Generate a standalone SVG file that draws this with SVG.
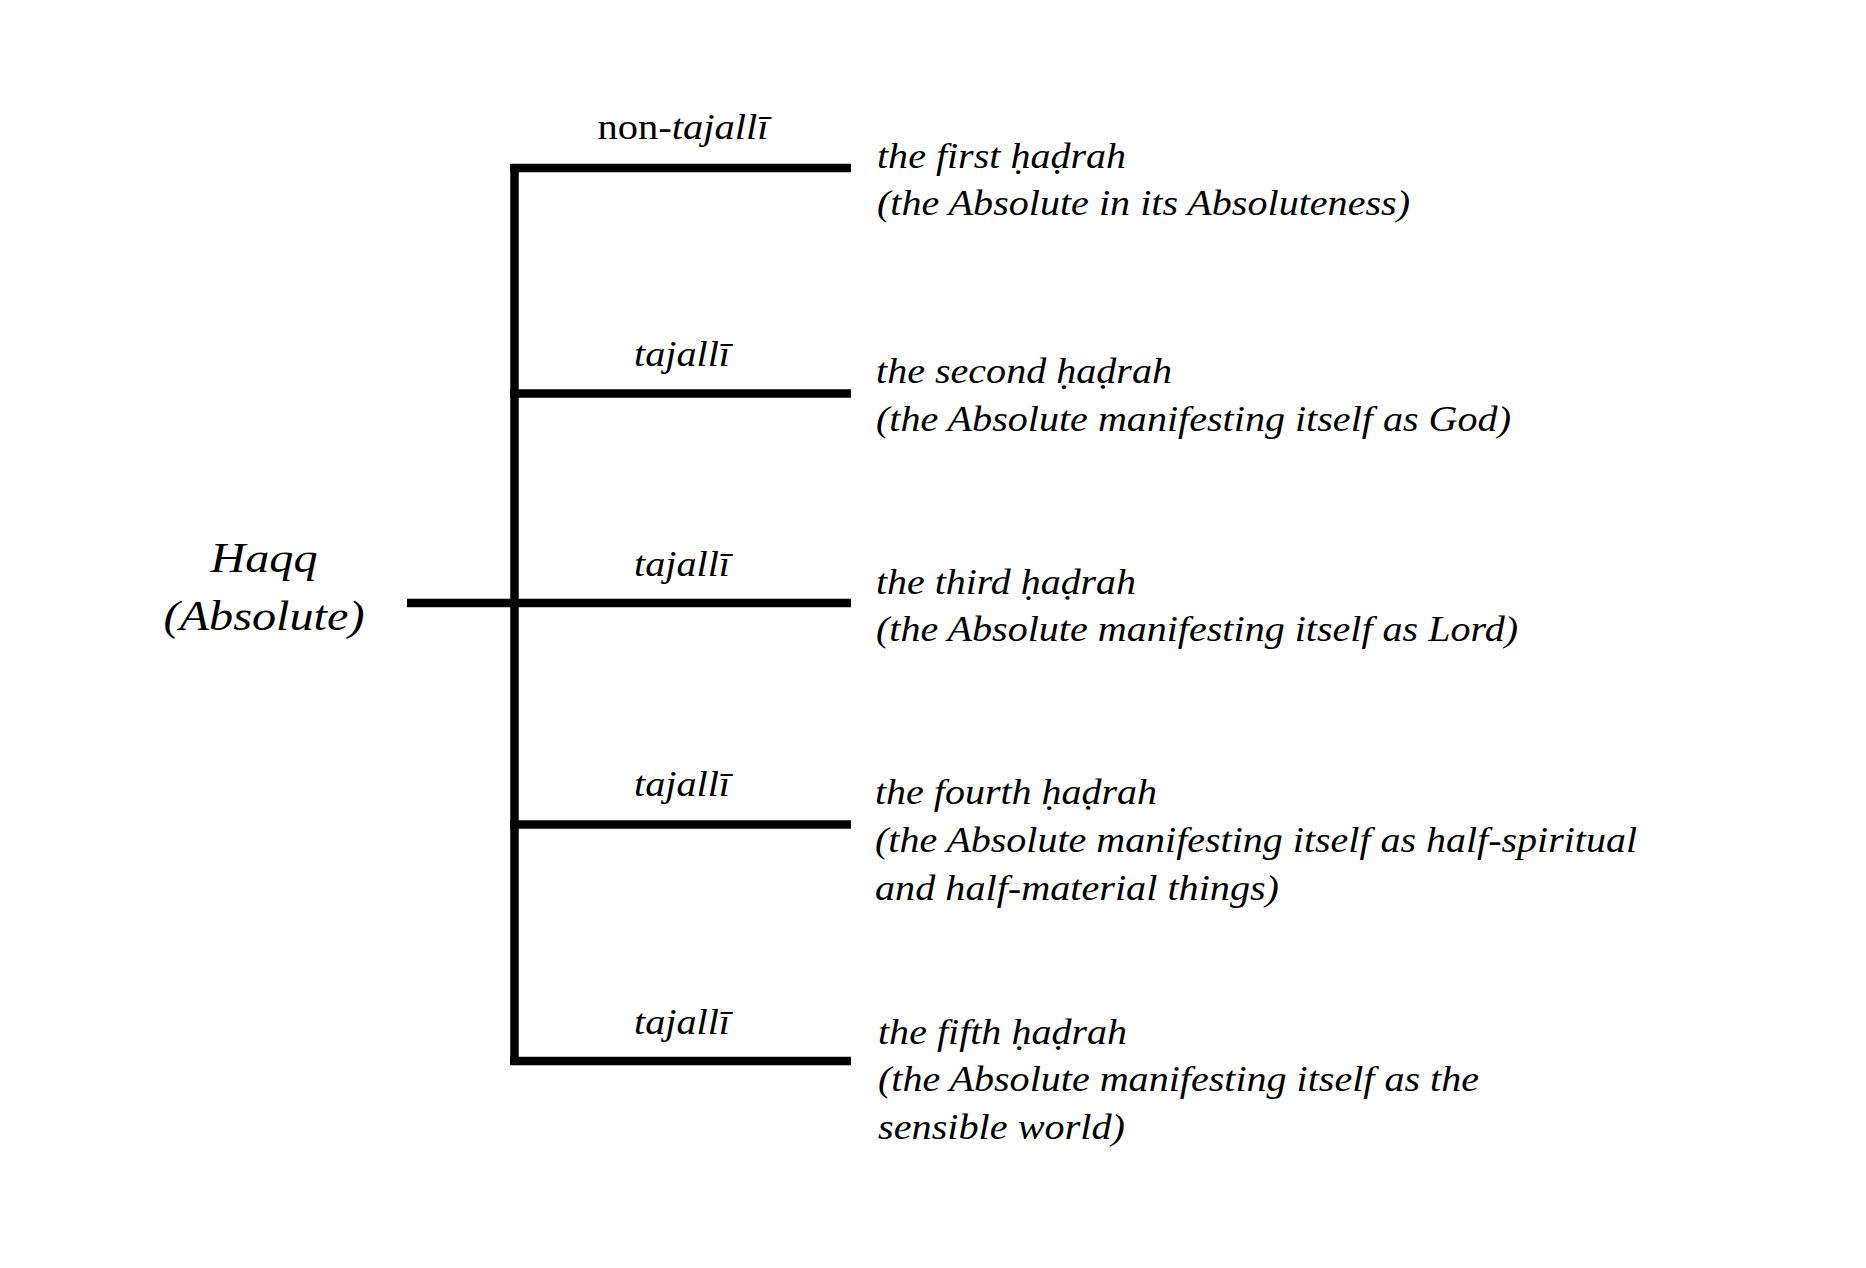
<svg xmlns="http://www.w3.org/2000/svg" width="1866" height="1268" viewBox="0 0 1866 1268">
<style>
  text { font-family: "Liberation Serif", "DejaVu Serif", serif; fill: #000; }
  .it { font-style: italic; font-size: 36px; }
  .lbl { font-size: 36px; text-anchor: middle; }
  .root { font-style: italic; font-size: 42px; text-anchor: middle; }
  .ln { stroke: #000; stroke-width: 8.5; fill: none; }
</style>
<rect width="1866" height="1268" fill="#fff"/>
<g id="connectors">
  <line class="ln" x1="514.5" y1="164" x2="514.5" y2="1065"/>
  <line class="ln" x1="407" y1="603" x2="514.5" y2="603"/>
  <line class="ln" x1="510" y1="168" x2="851" y2="168"/>
  <line class="ln" x1="510" y1="393.5" x2="851" y2="393.5"/>
  <line class="ln" x1="510" y1="603" x2="851" y2="603"/>
  <line class="ln" x1="510" y1="824.5" x2="851" y2="824.5"/>
  <line class="ln" x1="510" y1="1061" x2="851" y2="1061"/>
  <text class="lbl" x="683" y="139" textLength="171" lengthAdjust="spacingAndGlyphs">non-<tspan font-style="italic">tajallī</tspan></text>
  <text class="lbl it" x="682" y="366" textLength="96" lengthAdjust="spacingAndGlyphs">tajallī</text>
  <text class="lbl it" x="682" y="576" textLength="96" lengthAdjust="spacingAndGlyphs">tajallī</text>
  <text class="lbl it" x="682" y="796" textLength="96" lengthAdjust="spacingAndGlyphs">tajallī</text>
  <text class="lbl it" x="682" y="1034" textLength="96" lengthAdjust="spacingAndGlyphs">tajallī</text>
</g>
<g id="haqq">
  <text class="root" x="264" y="572" textLength="107" lengthAdjust="spacingAndGlyphs">Haqq</text>
  <text class="root" x="264" y="630" textLength="201" lengthAdjust="spacingAndGlyphs">(Absolute)</text>
</g>
<g id="hadrah1">
  <text class="it" x="877" y="168" textLength="249" lengthAdjust="spacingAndGlyphs">the first ḥaḍrah</text>
  <text class="it" x="877" y="215" textLength="533" lengthAdjust="spacingAndGlyphs">(the Absolute in its Absoluteness)</text>
</g>
<g id="hadrah2">
  <text class="it" x="876" y="383" textLength="296" lengthAdjust="spacingAndGlyphs">the second ḥaḍrah</text>
  <text class="it" x="876" y="431" textLength="635" lengthAdjust="spacingAndGlyphs">(the Absolute manifesting itself as God)</text>
</g>
<g id="hadrah3">
  <text class="it" x="876" y="594" textLength="260" lengthAdjust="spacingAndGlyphs">the third ḥaḍrah</text>
  <text class="it" x="876" y="641" textLength="642" lengthAdjust="spacingAndGlyphs">(the Absolute manifesting itself as Lord)</text>
</g>
<g id="hadrah4">
  <text class="it" x="875" y="804" textLength="282" lengthAdjust="spacingAndGlyphs">the fourth ḥaḍrah</text>
  <text class="it" x="875" y="852" textLength="762" lengthAdjust="spacingAndGlyphs">(the Absolute manifesting itself as half-spiritual</text>
  <text class="it" x="875" y="900" textLength="404" lengthAdjust="spacingAndGlyphs">and half-material things)</text>
</g>
<g id="hadrah5">
  <text class="it" x="878" y="1044" textLength="249" lengthAdjust="spacingAndGlyphs">the fifth ḥaḍrah</text>
  <text class="it" x="878" y="1091" textLength="601" lengthAdjust="spacingAndGlyphs">(the Absolute manifesting itself as the</text>
  <text class="it" x="878" y="1139" textLength="247" lengthAdjust="spacingAndGlyphs">sensible world)</text>
</g>
</svg>
